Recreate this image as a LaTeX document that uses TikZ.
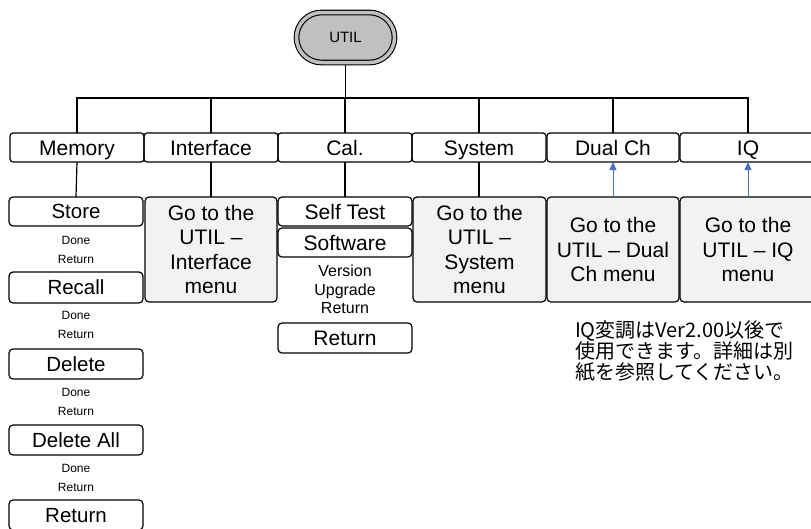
\documentclass[tikz,border=0pt]{standalone}
\usepackage{fontspec}
\setmainfont{Liberation Sans}
\newfontfamily\jpfont{Noto Sans CJK JP}
\usetikzlibrary{arrows.meta,backgrounds}
\definecolor{boxgray}{HTML}{F2F2F2}
\definecolor{utilgray}{HTML}{C0C0C0}
\definecolor{arrowblue}{HTML}{4472C4}
\begin{document}
\begin{tikzpicture}[x=1pt,y=-1pt,
  every node/.style={inner sep=0pt, outer sep=0pt},
  topbox/.style={draw, rounded corners=3pt, line width=1.2pt, minimum width=134pt, minimum height=29pt, text height=15pt, text depth=0pt, font=\fontsize{21}{24}\selectfont},
  subbox/.style={draw, rounded corners=4pt, line width=1.2pt, minimum width=134pt, text height=14.7pt, text depth=0pt, font=\fontsize{20.5}{24}\selectfont},
  gobox/.style={draw, fill=boxgray, rounded corners=4pt, line width=1.2pt, minimum height=105pt, align=center, font=\fontsize{21}{24.5}\selectfont},
  smalltext/.style={align=center, font=\fontsize{12}{19}\selectfont},
  caltext/.style={align=center, font=\fontsize{16}{18.7}\selectfont},
  conn/.style={line width=1.2pt},
  upar/.style={draw=arrowblue, line width=0.9pt, -{Triangle[length=8pt,width=7pt]}, arrowblue}
]
\useasboundingbox (0,0) rectangle (811,528);
\clip (0,0) rectangle (811,528);

% root
\node (util) [draw, fill=utilgray, double=utilgray, double distance=3.5pt, line width=1.1pt,
  rounded corners=25pt, minimum width=98pt, minimum height=50pt, font=\fontsize{15}{18}\selectfont]
  at (345.5,37.5) {UTIL};
\coordinate (bus) at (345.5,98);

% top level
\node (memory) [topbox] at (77,147.5) {Memory};
\node (iface) [topbox] at (211,147.5) {Interface};
\node (cal) [topbox] at (345,147.5) {Cal.};
\node (system) [topbox] at (479,147.5) {System};
\node (dual) [topbox, minimum width=132pt] at (613,147.5) {Dual Ch};
\node (iq) [topbox, minimum width=136pt] at (748,147.5) {IQ};

% memory column
\node (store) [subbox, minimum height=29pt] at (76,211.5) {Store};
\node (st1) [smalltext] at (76,249.5) {Done\\Return};
\node (recall) [subbox, minimum height=31pt] at (76,287.5) {Recall};
\node (st2) [smalltext] at (76,325) {Done\\Return};
\node (delete) [subbox, minimum height=30pt] at (76,364) {Delete};
\node (st3) [smalltext] at (76,402) {Done\\Return};
\node (delall) [subbox, minimum height=30pt] at (76,440) {Delete All};
\node (st4) [smalltext] at (76,477.5) {Done\\Return};
\node (mret) [subbox, minimum height=30pt] at (76,515) {Return};

% interface
\node (ifbox) [gobox, minimum width=132pt] at (211,249.5) {Go to the\\UTIL –\\Interface\\menu};

% cal
\node (selftest) [subbox, minimum height=29pt, text height=15pt, font=\fontsize{21}{24}\selectfont] at (345,211.5) {Self Test};
\node (software) [subbox, minimum height=29pt, text height=15pt, font=\fontsize{21}{24}\selectfont] at (345,242.5) {Software};
\node (caltxt) [caltext] at (345,289.5) {Version\\Upgrade\\Return};
\node (cret) [subbox, minimum height=30pt, text height=15pt, font=\fontsize{21}{24}\selectfont] at (345,338) {Return};

% system
\node (sysbox) [gobox, minimum width=133pt] at (479.5,249.5) {Go to the\\UTIL –\\System\\menu};

% dual ch / IQ
\node (dualbox) [gobox, minimum width=132pt] at (613,249.5) {Go to the\\UTIL – Dual\\Ch menu};
\node (iqbox) [gobox, minimum width=136pt] at (748,249.5) {Go to the\\UTIL – IQ\\menu};

% note
\node (note) [anchor=north west, align=left, font=\jpfont\fontsize{20}{21}\selectfont] at (575,321)
  {IQ変調はVer2.00以後で\\使用できます。詳細は別\\紙を参照してください。};

\begin{scope}[on background layer]
\draw[conn] (util.south) -- (bus);
\draw[conn] (memory.north) |- (bus);
\draw[conn] (iface.north) |- (bus);
\draw[conn] (cal.north) |- (bus);
\draw[conn] (system.north) |- (bus);
\draw[conn] (dual.north) |- (bus);
\draw[conn] (iq.north) |- (bus);
\draw[conn] (memory.south) -- (store.north);
\draw[conn] (iface.south) -- (ifbox.north);
\draw[conn] (cal.south) -- (selftest.north);
\draw[conn] (system.south) -- (system.south |- sysbox.north);
\end{scope}
\draw[upar] (dualbox.north) -- (dual.south);
\draw[upar] (iqbox.north) -- (iq.south);
\end{tikzpicture}
\end{document}
